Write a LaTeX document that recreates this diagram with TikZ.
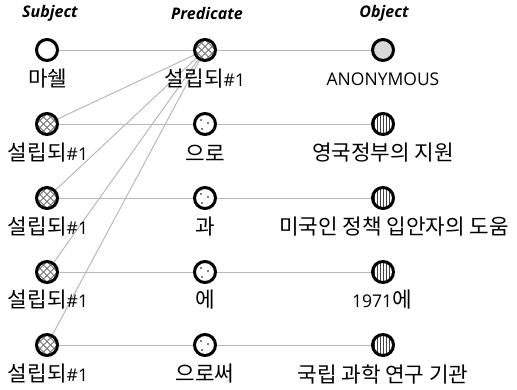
\documentclass[tikz,border=0pt]{standalone}
\usepackage{fontspec}
\usetikzlibrary{backgrounds}
\newfontfamily\kr{Noto Sans CJK KR}
\newfontfamily\lat{Open Sans}
\newfontfamily\hdr{Open Sans}
\newcommand{\K}[1]{{\kr\fontsize{21.3}{23}\selectfont #1}}
\newcommand{\La}[1]{{\lat\fontsize{17.5}{19}\selectfont #1}}
\tikzset{
  nd/.style={circle, draw=black, line width=3pt, minimum size=21pt, inner sep=0pt, fill=white},
  plainfill/.style={nd},
  greyfill/.style={nd, fill=black!15},
  crossfill/.style={nd, path picture={
    \foreach \k in {-2,...,1}{
      \draw[black!55, line width=0.9pt] ([shift={(\k*7+3.5-14,-14)}]path picture bounding box.center) -- ++(28,28);
      \draw[black!55, line width=0.9pt] ([shift={(\k*7+3.5+14,-14)}]path picture bounding box.center) -- ++(-28,28);
    }}},
  vlinefill/.style={nd, path picture={
    \foreach \k in {-4,...,4}{
      \draw[black!75, line width=0.8pt] ([shift={(\k*3,-14)}]path picture bounding box.center) -- ++(0,28);
    }}},
  dotfill/.style={nd, path picture={
    \foreach \p in {(-4,-4),(3,-1),(-3,5)}{
      \fill[black] ([shift={\p}]path picture bounding box.center) circle (0.9pt);
    }}},
  edge/.style={draw=black!28, line width=1pt},
  hd/.style={font=\hdr\fontsize{16}{18}\selectfont\bfseries\itshape, inner sep=0pt},
  lb/.style={inner sep=0pt, anchor=center}
}
\begin{document}
\begin{tikzpicture}[x=1pt,y=-1pt]
\useasboundingbox (0,0) rectangle (517,389);
% headers
\node[hd] (hs) at (50,13) {Subject};
\node[hd] (hp) at (207,13) {Predicate};
\node[hd] (ho) at (384,13) {Object};
% nodes
\node[plainfill] (s1) at (47,50) {};
\node[crossfill] (s2) at (47,124) {};
\node[crossfill] (s3) at (47,198) {};
\node[crossfill] (s4) at (47,272) {};
\node[crossfill] (s5) at (47,345) {};
\node[crossfill] (p1) at (205,50) {};
\node[dotfill] (p2) at (205,124) {};
\node[dotfill] (p3) at (205,198) {};
\node[dotfill] (p4) at (205,272) {};
\node[dotfill] (p5) at (205,345) {};
\node[greyfill] (o1) at (383,50) {};
\node[vlinefill] (o2) at (383,124) {};
\node[vlinefill] (o3) at (383,198) {};
\node[vlinefill] (o4) at (383,272) {};
\node[vlinefill] (o5) at (383,345) {};
% labels
\node[lb] (ls1) at (48,79) {\K{마쉘}};
\node[lb] (ls2) at (48,153) {\K{설립되}\La{\#1}};
\node[lb] (ls3) at (48,227) {\K{설립되}\La{\#1}};
\node[lb] (ls4) at (48,300) {\K{설립되}\La{\#1}};
\node[lb] (ls5) at (48,374) {\K{설립되}\La{\#1}};
\node[lb] (lp1) at (205,79) {\K{설립되}\La{\#1}};
\node[lb] (lp2) at (205,153) {\K{으로}};
\node[lb] (lp3) at (205,227) {\K{과}};
\node[lb] (lp4) at (205,300) {\K{에}};
\node[lb] (lp5) at (205,374) {\K{으로써}};
\node[lb] (lo1) at (383,79) {\La{ANONYMOUS}};
\node[lb] (lo2) at (383,153) {\K{영국정부의 지원}};
\node[lb] (lo3) at (394,227) {\K{미국인 정책 입안자의 도움}};
\node[lb] (lo4) at (382,300) {\La{1971}\K{에}};
\node[lb] (lo5) at (383,374) {\K{국립 과학 연구 기관}};
% edges
\begin{scope}[on background layer]
\foreach \i in {1,...,5}{
  \draw[edge] (s\i) -- (p\i);
  \draw[edge] (p\i) -- (o\i);
}
\foreach \i in {2,...,5}{
  \draw[edge] (s\i) -- (p1);
}
\end{scope}
\end{tikzpicture}
\end{document}
